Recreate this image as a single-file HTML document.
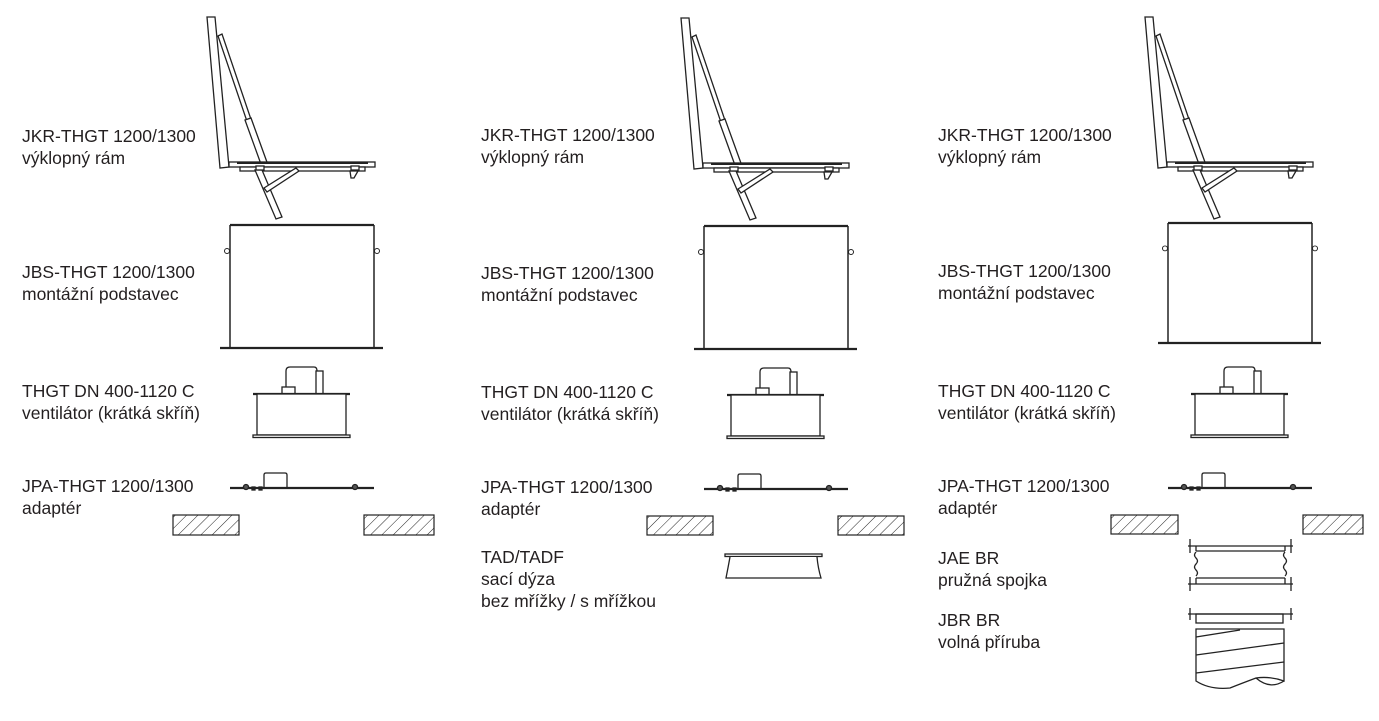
<!DOCTYPE html>
<html><head><meta charset="utf-8"><style>
html,body{margin:0;padding:0;background:#fff;}
svg{display:block;}
text{font-family:"Liberation Sans",sans-serif;font-size:17.5px;fill:#231f20;}
</style></head><body>
<svg width="1379" height="721" viewBox="0 0 1379 721" xmlns="http://www.w3.org/2000/svg">
<defs>
<pattern id="h" width="8" height="8" patternUnits="userSpaceOnUse" patternTransform="rotate(45)">
<line x1="0" y1="0" x2="0" y2="8" stroke="#222" stroke-width="1"/>
</pattern>
<g id="frame" fill="#fff" stroke="#222" stroke-width="1.3">
  <polygon points="207,17 215,17 229,167 220,168"/>
  <polygon points="218,36 222,34 258,140 254,142"/>
  <polygon points="245,120 251,118 268,165 262,167"/>
  <rect x="229" y="162" width="146" height="5"/>
  <line x1="237" y1="163" x2="368" y2="163" stroke-width="2"/>
  <rect x="240" y="167" width="125" height="4"/>
  <polygon points="255,170 262,170 282,217 276,219"/>
  <polygon points="264,188 296,168 299,171 267,192"/>
  <polygon points="350,171 358,171 354,178 351,178"/>
  <rect x="256" y="166" width="8" height="4" />
  <rect x="351" y="166" width="8" height="4" />
</g>
<g id="box" fill="#fff" stroke="#222">
  <line x1="230" y1="225" x2="374" y2="225" stroke-width="2.2"/>
  <line x1="230" y1="225" x2="230" y2="348" stroke-width="1.5"/>
  <line x1="374" y1="225" x2="374" y2="348" stroke-width="1.5"/>
  <line x1="220" y1="348" x2="383" y2="348" stroke-width="2.2"/>
  <circle cx="227" cy="251" r="2.5"/>
  <circle cx="377" cy="251" r="2.5"/>
</g>
<g id="fan" fill="#fff" stroke="#222" stroke-width="1.3">
  <path d="M286,394 V371 Q286,367 290,367 H314 Q317,367 317,371 V394"/>
  <rect x="316" y="371" width="7" height="23"/>
  <rect x="282" y="387" width="13" height="7"/>
  <line x1="253" y1="394" x2="350" y2="394" stroke-width="2.2"/>
  <rect x="257" y="394" width="89" height="41"/>
  <rect x="253" y="435" width="97" height="2.5"/>
</g>
<g id="adp" fill="#fff" stroke="#222" stroke-width="1.3">
  <path d="M264,488 V475 Q264,473 266,473 H285 Q287,473 287,475 V488"/>
  <line x1="230" y1="488" x2="374" y2="488" stroke-width="2.2"/>
  <circle cx="246" cy="487" r="2.5" fill="#555"/>
  <circle cx="355" cy="487" r="2.5" fill="#555"/>
  <rect x="252" y="487" width="3" height="3" fill="#222"/>
  <rect x="259" y="487" width="3" height="3" fill="#222"/>
</g>
</defs>

<use href="#frame"/><use href="#box"/><use href="#fan"/><use href="#adp"/>
<rect x="173" y="515" width="66" height="20" fill="url(#h)" stroke="#222" stroke-width="1.2"/>
<rect x="364" y="515" width="70" height="20" fill="url(#h)" stroke="#222" stroke-width="1.2"/>
<text x="22" y="142">JKR-THGT 1200/1300</text><text x="22" y="164">výklopný rám</text>
<text x="22" y="278">JBS-THGT 1200/1300</text><text x="22" y="300">montážní podstavec</text>
<text x="22" y="397">THGT DN 400-1120 C</text><text x="22" y="419">ventilátor (krátká skříň)</text>
<text x="22" y="492">JPA-THGT 1200/1300</text><text x="22" y="514">adaptér</text>

<g transform="translate(474,1)"><use href="#frame"/><use href="#box"/><use href="#fan"/><use href="#adp"/></g>
<rect x="647" y="516" width="66" height="19" fill="url(#h)" stroke="#222" stroke-width="1.2"/>
<rect x="838" y="516" width="66" height="19" fill="url(#h)" stroke="#222" stroke-width="1.2"/>
<g fill="#fff" stroke="#222" stroke-width="1.3">
<rect x="725" y="554" width="97" height="2.5"/>
<path d="M730,557 Q728,568 726,578 H821 Q818,568 817,557"/>
</g>
<text x="481" y="141">JKR-THGT 1200/1300</text><text x="481" y="163">výklopný rám</text>
<text x="481" y="279">JBS-THGT 1200/1300</text><text x="481" y="301">montážní podstavec</text>
<text x="481" y="398">THGT DN 400-1120 C</text><text x="481" y="420">ventilátor (krátká skříň)</text>
<text x="481" y="493">JPA-THGT 1200/1300</text><text x="481" y="515">adaptér</text>
<text x="481" y="563">TAD/TADF</text><text x="481" y="585">sací dýza</text><text x="481" y="607">bez mřížky / s mřížkou</text>

<g transform="translate(938,0)"><use href="#frame"/></g>
<g transform="translate(938,3.5) scale(1,0.9756)"><use href="#box"/></g>
<g transform="translate(938,0)"><use href="#fan"/><use href="#adp"/></g>
<rect x="1111" y="515" width="67" height="19" fill="url(#h)" stroke="#222" stroke-width="1.2"/>
<rect x="1303" y="515" width="60" height="19" fill="url(#h)" stroke="#222" stroke-width="1.2"/>
<g fill="none" stroke="#222" stroke-width="1.3">
<line x1="1188" y1="546" x2="1293" y2="546"/>
<line x1="1190" y1="539" x2="1190" y2="553"/><line x1="1291" y1="539" x2="1291" y2="553"/>
<line x1="1196" y1="546" x2="1196" y2="551"/><line x1="1285" y1="546" x2="1285" y2="551"/>
<line x1="1196" y1="551" x2="1285" y2="551"/>
<path d="M1196,552 q-3,3 0,6 q3,3 0,6 q-3,3 0,6 q3,3 0,6"/>
<path d="M1285,552 q-3,3 0,6 q3,3 0,6 q-3,3 0,6 q3,3 0,6"/>
<line x1="1196" y1="578" x2="1285" y2="578"/>
<line x1="1196" y1="578" x2="1196" y2="584"/><line x1="1285" y1="578" x2="1285" y2="584"/>
<line x1="1188" y1="584" x2="1293" y2="584"/>
<line x1="1190" y1="577" x2="1190" y2="591"/><line x1="1291" y1="577" x2="1291" y2="591"/>
<line x1="1188" y1="614" x2="1293" y2="614"/>
<line x1="1190" y1="608" x2="1190" y2="620"/><line x1="1291" y1="608" x2="1291" y2="620"/>
<rect x="1196" y="614" width="87" height="9"/>
<path d="M1196,629 H1284 V681 Q1270,676 1256,678 Q1240,684 1230,688 Q1210,690 1196,681 Z"/>
<path d="M1256,678 Q1270,690 1284,681"/>
<line x1="1196" y1="637" x2="1240" y2="630"/>
<line x1="1196" y1="655" x2="1284" y2="643"/>
<line x1="1196" y1="673" x2="1284" y2="662"/>
</g>
<text x="938" y="141">JKR-THGT 1200/1300</text><text x="938" y="163">výklopný rám</text>
<text x="938" y="277">JBS-THGT 1200/1300</text><text x="938" y="299">montážní podstavec</text>
<text x="938" y="397">THGT DN 400-1120 C</text><text x="938" y="419">ventilátor (krátká skříň)</text>
<text x="938" y="492">JPA-THGT 1200/1300</text><text x="938" y="514">adaptér</text>
<text x="938" y="564">JAE BR</text><text x="938" y="586">pružná spojka</text>
<text x="938" y="626">JBR BR</text><text x="938" y="648">volná příruba</text>
</svg>
</body></html>
